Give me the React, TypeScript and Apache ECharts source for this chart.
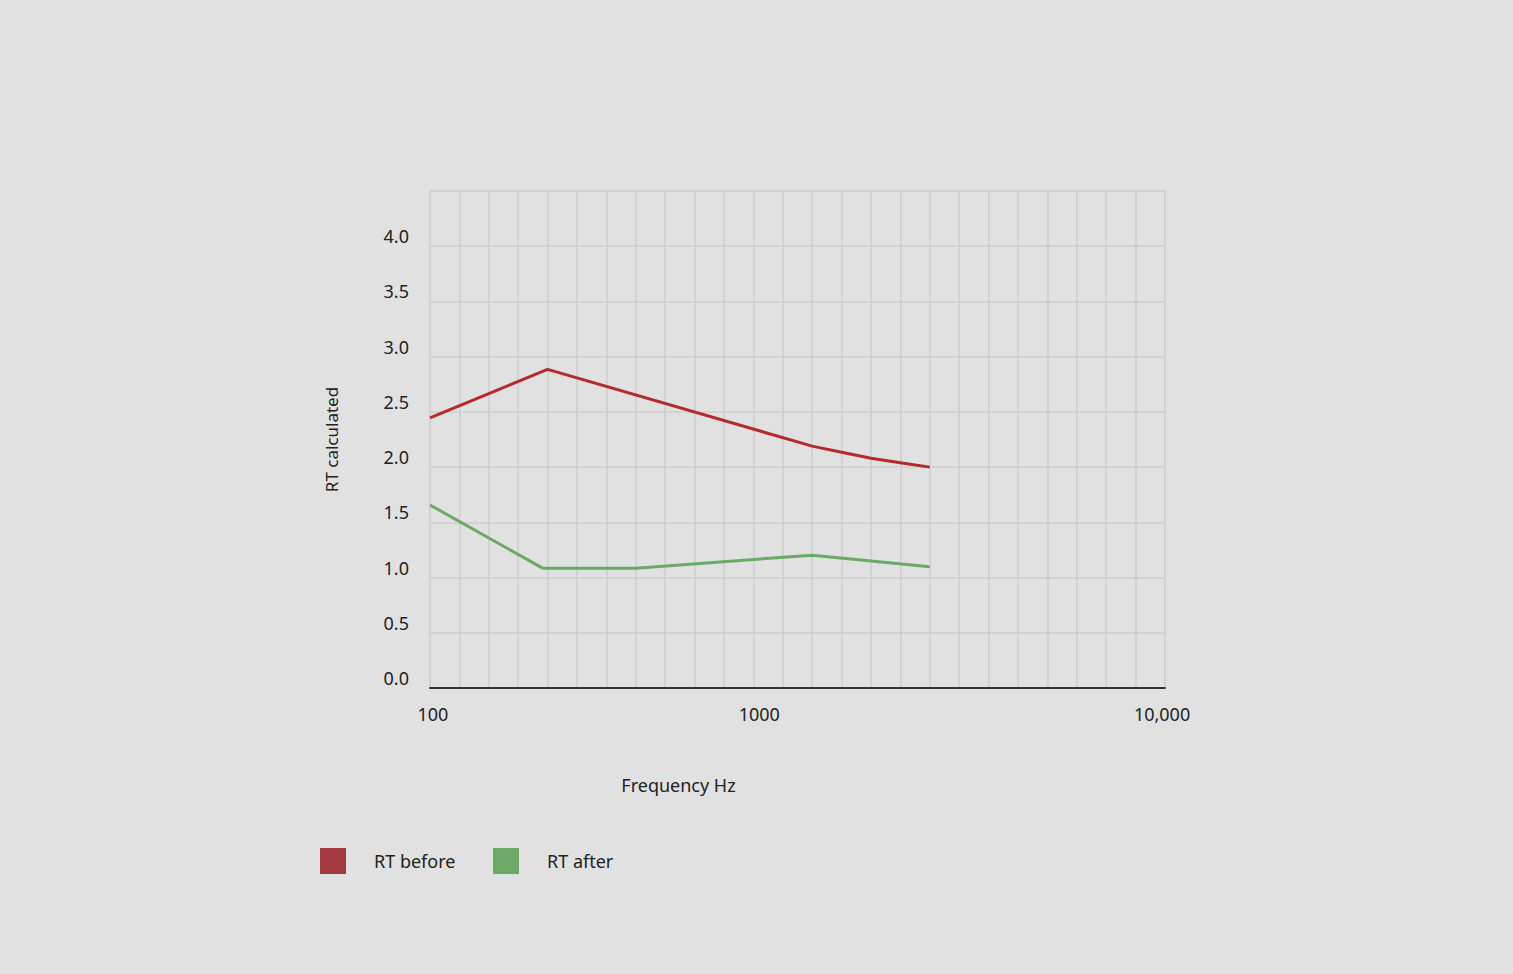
import React, { useEffect, useRef } from "react";
import * as echarts from "echarts";

// Reading positions along the (uniformly gridded) frequency axis, in grid-column units
const beforeX = [0, 4, 13, 14, 15, 16, 17];
const beforeY = [2.445, 2.885, 2.19, 2.135, 2.08, 2.04, 2.0];
const afterX = [0, 3.83, 7, 13, 17];
const afterY = [1.657, 1.085, 1.085, 1.203, 1.097];

// Frequency tick labels and the grid-column position where each is printed
const freqLabels = ["100", "1000", "10,000"];
const freqLabelPos = [0.1, 11.2, 24.9];

const seriesNames = ["RT before", "RT after"];
const lineColors = ["#b52b2b", "#6aaa64"];
const legendColors = ["#a33940", "#6da867"];
const legendLeft = [320, 493];

const FONT = "'Noto Sans', sans-serif";

export default function App() {
  const ref = useRef<HTMLDivElement>(null);
  useEffect(() => {
    if (!ref.current) return;
    const chart = echarts.init(ref.current, undefined, { renderer: "svg" });
    const option: any = {
      animation: false,
      backgroundColor: "#e1e1e1",
      textStyle: { fontFamily: FONT, color: "#222" },
      grid: { left: 430, top: 191, width: 735, height: 497, containLabel: false },
      legend: seriesNames.map((n, i) => ({
        left: legendLeft[i],
        top: 848,
        padding: 0,
        icon: "rect",
        itemWidth: 26,
        itemHeight: 26,
        itemStyle: { borderWidth: 0 },
        textStyle: {
          fontFamily: FONT,
          fontSize: 18,
          color: "#222",
          padding: [0, 0, 0, 23],
        },
        data: [{ name: n, itemStyle: { color: legendColors[i] } }],
      })),
      xAxis: [
        {
          type: "value",
          min: 0,
          max: 25,
          interval: 1,
          axisLine: { show: true, lineStyle: { color: "#333", width: 2 } },
          axisTick: { show: false },
          axisLabel: { show: false },
          splitLine: { show: true, lineStyle: { color: "#cdcdcd", width: 1.5 } },
          name: "Frequency Hz",
          nameLocation: "middle",
          nameGap: 88,
          nameTextStyle: {
            fontFamily: FONT,
            fontSize: 18,
            color: "#222",
            padding: [0, 238, 0, 0],
          },
        },
        {
          type: "value",
          position: "bottom",
          min: 0,
          max: 25,
          interval: 0.1,
          axisLine: { show: false },
          axisTick: { show: false },
          splitLine: { show: false },
          axisLabel: {
            show: true,
            margin: 17,
            fontFamily: FONT,
            fontSize: 18,
            color: "#222",
            showMinLabel: true,
            showMaxLabel: true,
            formatter: (v: number) => {
              for (let i = 0; i < freqLabelPos.length; i++) {
                if (Math.abs(v - freqLabelPos[i]) < 1e-6) return freqLabels[i];
              }
              return "";
            },
          },
        },
      ],
      yAxis: {
        type: "value",
        min: 0,
        max: 4.5,
        interval: 0.5,
        axisLine: { show: false },
        axisTick: { show: false },
        splitLine: { show: true, lineStyle: { color: "#cdcdcd", width: 1.5 } },
        axisLabel: {
          margin: 21,
          fontFamily: FONT,
          fontSize: 18,
          color: "#222",
          verticalAlign: "bottom",
          lineHeight: 20,
          formatter: (v: number) => (v > 4.25 ? "" : v.toFixed(1)),
        },
        name: "RT calculated",
        nameLocation: "middle",
        nameGap: 90,
        nameTextStyle: { fontFamily: FONT, fontSize: 17, color: "#222" },
      },
      series: [
        {
          name: seriesNames[0],
          type: "line",
          xAxisIndex: 0,
          showSymbol: false,
          symbol: "none",
          itemStyle: { color: lineColors[0] },
          lineStyle: { color: lineColors[0], width: 3 },
          data: beforeX.map((x, i) => [x, beforeY[i]]),
        },
        {
          name: seriesNames[1],
          type: "line",
          xAxisIndex: 0,
          showSymbol: false,
          symbol: "none",
          itemStyle: { color: lineColors[1] },
          lineStyle: { color: lineColors[1], width: 3 },
          data: afterX.map((x, i) => [x, afterY[i]]),
        },
      ],
    };
    chart.setOption(option);
    return () => chart.dispose();
  }, []);
  return (
    <div
      ref={ref}
      style={{ position: "fixed", left: 0, top: 0, width: 1513, height: 974, background: "#e1e1e1" }}
    />
  );
}
